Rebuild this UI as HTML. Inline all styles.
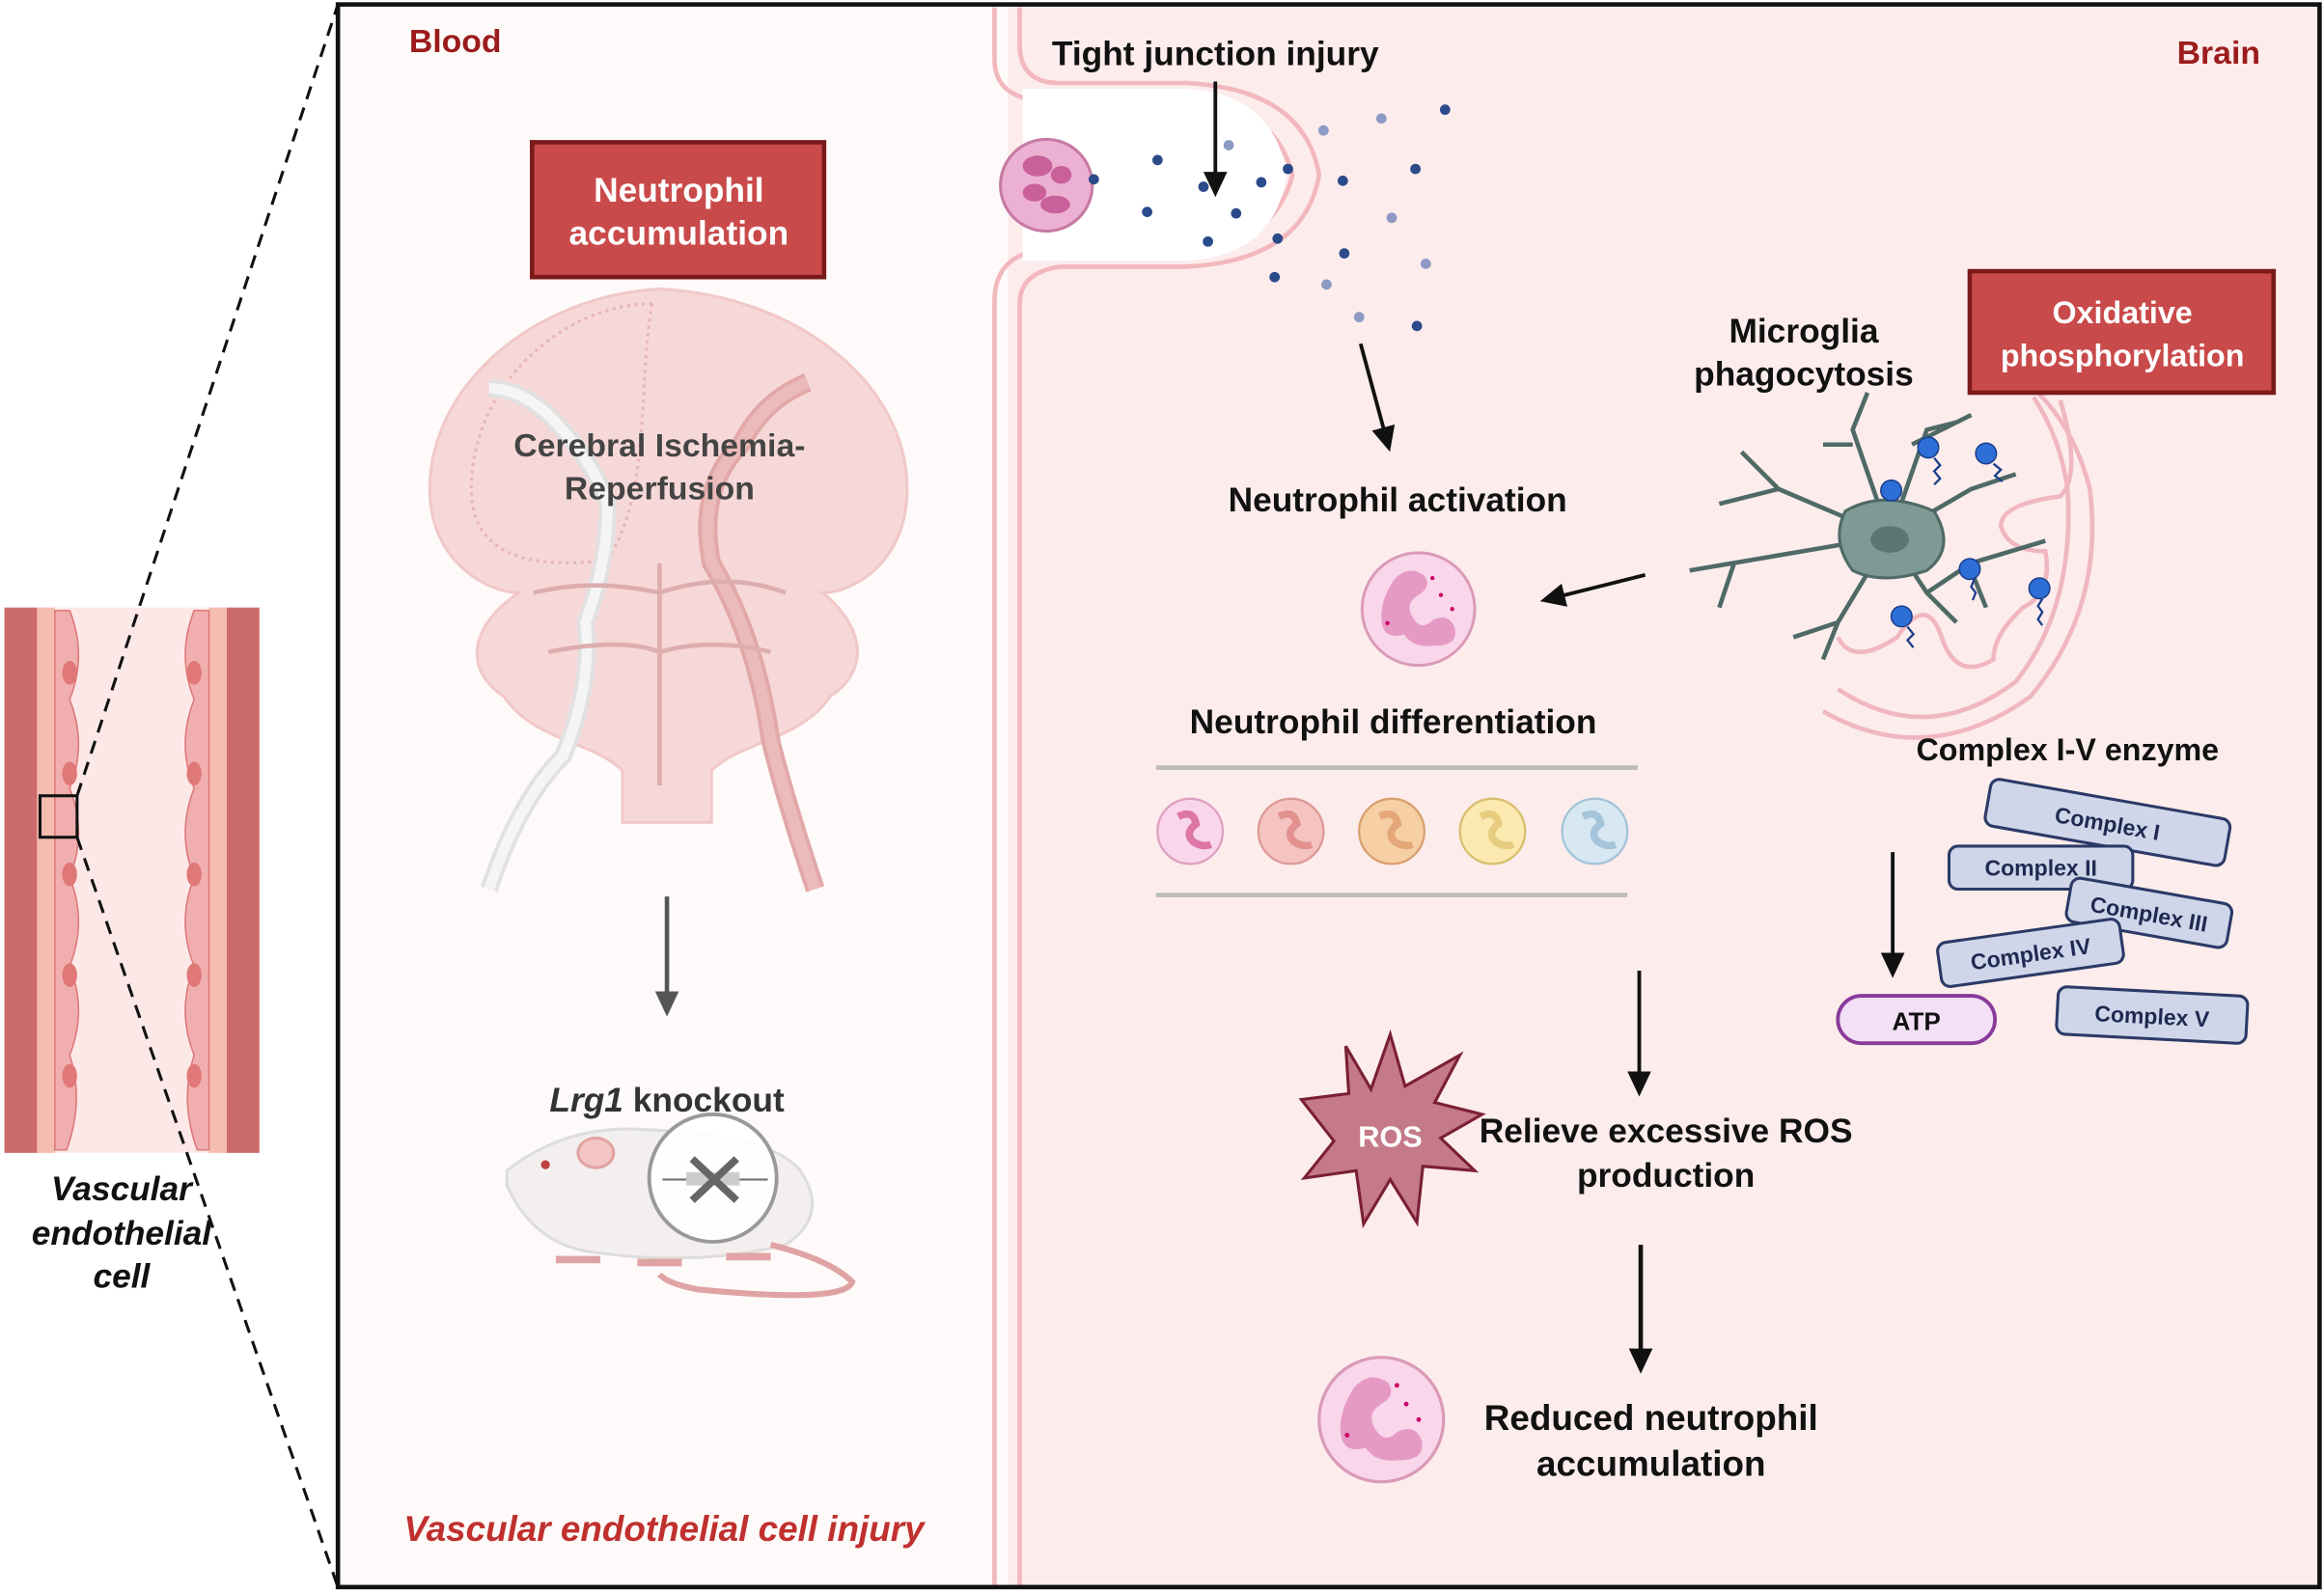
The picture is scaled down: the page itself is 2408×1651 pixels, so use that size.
<!DOCTYPE html>
<html><head><meta charset="utf-8"><style>
html,body{margin:0;padding:0;background:#fff;}
svg{display:block;}
text{font-family:"Liberation Sans",sans-serif;font-weight:bold;}
</style></head><body>
<svg width="2408" height="1651" viewBox="0 0 1568 1075" preserveAspectRatio="none" xmlns="http://www.w3.org/2000/svg">
<defs>
<marker id="ah" markerWidth="8" markerHeight="8" refX="6" refY="4" orient="auto" markerUnits="userSpaceOnUse" viewBox="0 0 8 8"><path d="M0,0 L8,4 L0,8z" fill="#111"/></marker>
<marker id="ahb" markerWidth="18" markerHeight="18" refX="14" refY="9" orient="auto" markerUnits="userSpaceOnUse"><path d="M0,1 L17,9 L0,17z" fill="#111"/></marker>
<marker id="ahg" markerWidth="18" markerHeight="18" refX="14" refY="9" orient="auto" markerUnits="userSpaceOnUse"><path d="M0,1 L17,9 L0,17z" fill="#555"/></marker>
<g id="neu"><circle r="40" fill="#f9d6ea" stroke="#d99ab8" stroke-width="2"/><path d="M-18,-20 q10,-12 22,-4 q6,8 -4,14 q-10,6 -4,16 q6,10 14,2 q12,-6 16,6 q2,12 -14,12 q-16,2 -22,-8 q-14,4 -16,-8 q-2,-14 8,-30z" fill="#e59ac4"/><circle cx="16" cy="-10" r="1.5" fill="#c06"/><circle cx="24" cy="0" r="1.5" fill="#c06"/><circle cx="10" cy="-22" r="1.5" fill="#c06"/><circle cx="-22" cy="10" r="1.5" fill="#c06"/></g>
</defs>
<rect width="1568" height="1075" fill="#fff"/>
<!-- vessel -->
<rect x="3" y="410" width="172" height="368" fill="#fde8e8"/>
<rect x="3" y="410" width="22" height="368" fill="#cc6b6b"/>
<rect x="153" y="410" width="22" height="368" fill="#cc6b6b"/>
<rect x="25" y="410" width="12" height="368" fill="#f5bcb0"/>
<rect x="141" y="410" width="12" height="368" fill="#f5bcb0"/>
<g fill="#f1aeae" stroke="#d77" stroke-width="1">
<path d="M37,412 h10 q12,30 0,60 q12,30 0,60 q12,30 0,60 q12,30 0,60 q12,30 0,60 q10,30 -2,64 h-8z"/>
<path d="M141,412 h-10 q-12,30 0,60 q-12,30 0,60 q-12,30 0,60 q-12,30 0,60 q-12,30 0,60 q-10,30 2,64 h8z"/>
</g>
<g fill="#e07878"><ellipse cx="47" cy="454" rx="5" ry="8"/><ellipse cx="47" cy="522" rx="5" ry="8"/><ellipse cx="47" cy="590" rx="5" ry="8"/><ellipse cx="47" cy="658" rx="5" ry="8"/><ellipse cx="47" cy="726" rx="5" ry="8"/>
<ellipse cx="131" cy="454" rx="5" ry="8"/><ellipse cx="131" cy="522" rx="5" ry="8"/><ellipse cx="131" cy="590" rx="5" ry="8"/><ellipse cx="131" cy="658" rx="5" ry="8"/><ellipse cx="131" cy="726" rx="5" ry="8"/></g>
<rect x="27" y="537" width="25" height="28" fill="none" stroke="#111" stroke-width="2"/>
<line x1="52" y1="537" x2="228" y2="3" stroke="#111" stroke-width="2" stroke-dasharray="9,6"/>
<line x1="52" y1="565" x2="228" y2="1071" stroke="#111" stroke-width="2" stroke-dasharray="9,6"/>
<g font-style="italic" font-size="23" fill="#111" text-anchor="middle"><text x="82" y="810">Vascular</text><text x="82" y="840">endothelial</text><text x="82" y="869">cell</text></g>
<!-- main panel -->
<rect x="228" y="3" width="1337" height="1068" fill="#fdfaf9"/>
<rect x="680" y="3" width="885" height="1068" fill="#fdecec"/>
<!-- membrane -->
<g fill="none" stroke="#f2b8bd" stroke-width="3">
<path d="M671,5 V40 q0,25 30,28 H800 q60,2 72,50 q-12,48 -72,50 H705 q-34,4 -34,35 V1071"/>
<path d="M688,5 V30 q0,25 25,26 H800 q80,4 90,62 q-10,58 -90,62 H715 q-27,4 -27,25 V1071"/>
</g>
<path d="M690,60 H800 q60,3 68,58 q-8,55 -68,58 H690z" fill="#fff"/>
<!-- neutrophil in junction -->
<circle cx="706" cy="125" r="31" fill="#ecb0d2" stroke="#c77aa4" stroke-width="2"/>
<g fill="#c9609a"><ellipse cx="700" cy="112" rx="10" ry="7"/><ellipse cx="716" cy="118" rx="7" ry="6"/><ellipse cx="698" cy="130" rx="8" ry="6"/><ellipse cx="712" cy="138" rx="10" ry="6"/></g>
<!-- dots -->
<g fill="#2b4a8a"><circle cx="738" cy="121" r="3.5"/><circle cx="781" cy="108" r="3.5"/><circle cx="774" cy="143" r="3.5"/><circle cx="812" cy="126" r="3.5"/><circle cx="834" cy="144" r="3.5"/><circle cx="815" cy="163" r="3.5"/><circle cx="851" cy="123" r="3.5"/><circle cx="869" cy="114" r="3.5"/><circle cx="862" cy="161" r="3.5"/><circle cx="860" cy="187" r="3.5"/><circle cx="906" cy="122" r="3.5"/><circle cx="907" cy="171" r="3.5"/><circle cx="975" cy="74" r="3.5"/><circle cx="955" cy="114" r="3.5"/><circle cx="956" cy="220" r="3.5"/><circle cx="1219" cy="14" r="0"/></g>
<g fill="#8c9ac4"><circle cx="829" cy="98" r="3.5"/><circle cx="893" cy="88" r="3.5"/><circle cx="932" cy="80" r="3.5"/><circle cx="895" cy="192" r="3.5"/><circle cx="939" cy="147" r="3.5"/><circle cx="962" cy="178" r="3.5"/><circle cx="917" cy="214" r="3.5"/></g>
<text x="820" y="44" font-size="23" fill="#111" text-anchor="middle">Tight junction injury</text>
<line x1="820" y1="55" x2="820" y2="130" stroke="#111" stroke-width="2.5" marker-end="url(#ahb)"/>
<line x1="918" y1="232" x2="937" y2="302" stroke="#111" stroke-width="2.5" marker-end="url(#ahb)"/>
<text x="276" y="35" font-size="22" fill="#9b1c1c">Blood</text>
<text x="1525" y="43" font-size="22" fill="#9b1c1c" text-anchor="end">Brain</text>
<!-- brain -->
<g opacity="0.85">
<path d="M445,195 C360,200 290,260 290,330 C290,380 330,400 350,400 C320,420 310,450 340,470 C360,500 400,500 420,520 L420,555 L480,555 L480,520 C500,500 540,500 560,470 C590,450 580,420 555,400 C575,400 612,380 612,330 C612,260 540,200 445,195z" fill="#f6d3d3" stroke="#efc0c0" stroke-width="2"/>
<path d="M440,205 C380,205 318,260 318,330 C318,372 352,385 410,378" fill="none" stroke="#e6a9a9" stroke-width="2" stroke-dasharray="2,3"/>
<path d="M440,205 C430,260 440,330 410,378" fill="none" stroke="#e6a9a9" stroke-width="2" stroke-dasharray="2,3"/>
<path d="M330,600 Q350,540 380,510 Q400,460 395,420 Q410,380 410,340 Q400,310 370,280 Q350,262 330,262" fill="none" stroke="#ddd" stroke-width="12"/>
<path d="M330,600 Q350,540 380,510 Q400,460 395,420 Q410,380 410,340 Q400,310 370,280 Q350,262 330,262" fill="none" stroke="#f5f5f5" stroke-width="7"/>
<path d="M550,600 Q530,540 520,500 Q510,430 480,380 Q470,330 500,300 Q515,270 545,258" fill="none" stroke="#de9a9a" stroke-width="13"/>
<path d="M550,600 Q530,540 520,500 Q510,430 480,380 Q470,330 500,300 Q515,270 545,258" fill="none" stroke="#e8b0b0" stroke-width="8"/>
<path d="M445,380 V530 M370,440 Q420,430 445,440 M445,440 Q480,430 520,440 M360,400 Q400,390 445,400 M445,400 Q490,385 530,400" fill="none" stroke="#d9a0a0" stroke-width="3"/>
</g>
<rect x="359" y="96" width="197" height="91" fill="#c94a4a" stroke="#7a1a1a" stroke-width="3"/>
<text x="458" y="136" font-size="23" fill="#fff" text-anchor="middle">Neutrophil</text>
<text x="458" y="165" font-size="23" fill="#fff" text-anchor="middle">accumulation</text>
<text x="445" y="308" font-size="22" fill="#444" text-anchor="middle">Cerebral Ischemia-</text>
<text x="445" y="337" font-size="22" fill="#444" text-anchor="middle">Reperfusion</text>
<line x1="450" y1="605" x2="450" y2="683" stroke="#555" stroke-width="3" marker-end="url(#ahg)"/>
<!-- mouse -->
<path d="M342,790 Q380,760 430,762 Q520,765 540,790 Q560,820 530,840 Q470,855 400,845 Q360,840 342,800z" fill="#f3efee" stroke="#ddd" stroke-width="2"/>
<path d="M520,840 Q560,850 575,865 Q570,880 470,870 Q450,866 445,860" fill="none" stroke="#e0a3a3" stroke-width="4"/>
<ellipse cx="402" cy="778" rx="12" ry="10" fill="#f3c5c5" stroke="#e2a3a3" stroke-width="2"/>
<circle cx="368" cy="786" r="3" fill="#c04040"/>
<path d="M375,850 h30 M430,852 h30 M490,848 h30" stroke="#e0a3a3" stroke-width="5"/>
<circle cx="481" cy="795" r="43" fill="#fff" fill-opacity="0.9" stroke="#999" stroke-width="2.5"/>
<line x1="447" y1="796" x2="518" y2="796" stroke="#777" stroke-width="1.5"/><rect x="463" y="791" width="36" height="9" fill="#ccc"/>
<path d="M467,782 L497,810 M497,782 L467,810" stroke="#666" stroke-width="5"/>
<text x="450" y="750" font-size="23" fill="#333" text-anchor="middle"><tspan font-style="italic">Lrg1</tspan> knockout</text>
<text x="448" y="1040" font-size="24" font-style="italic" fill="#c0302e" text-anchor="middle">Vascular endothelial cell injury</text>
<!-- center column -->
<text x="943" y="345" font-size="23" fill="#111" text-anchor="middle">Neutrophil activation</text>
<use href="#neu" transform="translate(957,411) scale(0.95)"/>
<line x1="1110" y1="388" x2="1042" y2="405" stroke="#111" stroke-width="2.5" marker-end="url(#ahb)"/>
<text x="940" y="495" font-size="23" fill="#111" text-anchor="middle">Neutrophil differentiation</text>
<line x1="780" y1="518" x2="1105" y2="518" stroke="#bbb" stroke-width="3"/>
<line x1="780" y1="604" x2="1098" y2="604" stroke="#bbb" stroke-width="3"/>
<g><circle cx="803" cy="561" r="22" fill="#f9d6ea" stroke="#dea0c0" stroke-width="1.5"/><circle cx="871" cy="561" r="22" fill="#f5c4c0" stroke="#dc9a96" stroke-width="1.5"/><circle cx="939" cy="561" r="22" fill="#f7cfa4" stroke="#d9a070" stroke-width="1.5"/><circle cx="1007" cy="561" r="22" fill="#fbe9b0" stroke="#d8bf70" stroke-width="1.5"/><circle cx="1076" cy="561" r="22" fill="#d8e8f2" stroke="#a4c4d8" stroke-width="1.5"/>
<g opacity="0.45"><path d="M795,551 q10,-5 12,5 q-8,6 -2,12 q6,4 12,2" fill="none" stroke="#b05" stroke-width="5"/><path d="M863,551 q10,-5 12,5 q-8,6 -2,12 q6,4 12,2" fill="none" stroke="#c55" stroke-width="5"/><path d="M931,551 q10,-5 12,5 q-8,6 -2,12 q6,4 12,2" fill="none" stroke="#c74" stroke-width="5"/><path d="M999,551 q10,-5 12,5 q-8,6 -2,12 q6,4 12,2" fill="none" stroke="#ca4" stroke-width="5"/><path d="M1068,551 q10,-5 12,5 q-8,6 -2,12 q6,4 12,2" fill="none" stroke="#69b" stroke-width="5"/></g></g>
<line x1="1106" y1="655" x2="1106" y2="737" stroke="#111" stroke-width="2.5" marker-end="url(#ahb)"/>
<polygon points="938,698 948,733 985,712 968,744 1000,752 972,768 995,790 960,787 956,825 938,796 920,826 915,790 880,795 900,770 878,742 910,738 908,706 925,735" fill="#c47a88" stroke="#7a1f35" stroke-width="2"/>
<text x="938" y="774" font-size="20" fill="#fff" text-anchor="middle">ROS</text>
<text x="1124" y="771" font-size="23" fill="#111" text-anchor="middle">Relieve excessive ROS</text>
<text x="1124" y="801" font-size="23" fill="#111" text-anchor="middle">production</text>
<line x1="1107" y1="840" x2="1107" y2="924" stroke="#111" stroke-width="3" marker-end="url(#ahb)"/>
<use href="#neu" transform="translate(932,958) scale(1.05)"/>
<text x="1114" y="965" font-size="24" fill="#111" text-anchor="middle">Reduced neutrophil</text>
<text x="1114" y="996" font-size="24" fill="#111" text-anchor="middle">accumulation</text>
<!-- mitochondrion -->
<g fill="none" stroke="#f0b7c0" stroke-width="3">
<path d="M1230,480 Q1300,520 1370,470 Q1420,410 1410,330 Q1400,290 1375,265"/>
<path d="M1240,465 Q1300,505 1360,460 Q1400,410 1395,330 Q1390,295 1372,268 M1390,270 Q1405,320 1390,335 Q1350,340 1350,355 Q1355,372 1380,372 Q1385,400 1365,410 Q1345,428 1345,445 Q1320,460 1310,430 Q1300,400 1280,430 Q1250,450 1240,430"/>
</g>
<!-- microglia -->
<g stroke="#4f6a66" stroke-width="3" fill="none">
<path d="M1275,362 L1200,330 L1160,340 M1200,330 L1175,305 M1275,362 L1140,385 M1170,380 L1160,410 M1275,362 L1250,290 L1260,265 M1250,300 L1230,300 M1275,362 L1300,290 L1320,285 M1290,300 L1330,280 M1275,362 L1330,330 L1360,320 M1275,362 L1300,400 L1320,420 M1300,400 L1330,380 L1380,365 M1275,362 L1240,420 L1230,445 M1240,420 L1210,430 M1330,385 L1340,410"/>
</g>
<path d="M1245,345 Q1270,330 1305,345 Q1320,370 1300,385 Q1270,395 1250,385 Q1235,365 1245,345z" fill="#7e9a95" stroke="#4f6a66" stroke-width="2"/>
<ellipse cx="1275" cy="364" rx="13" ry="9" fill="#5c7672"/>
<g fill="#2d6fd6" stroke="#1b3f8a" stroke-width="1"><circle cx="1276" cy="331" r="7"/><circle cx="1301" cy="302" r="7"/><circle cx="1340" cy="306" r="7"/><circle cx="1329" cy="384" r="7"/><circle cx="1376" cy="397" r="7"/><circle cx="1283" cy="416" r="7"/></g>
<g fill="none" stroke="#1b3f8a" stroke-width="1.5"><path d="M1305,309 l4,5 -4,4 4,5 -4,4"/><path d="M1345,313 l5,4 -4,4 5,4"/><path d="M1332,391 l-2,5 3,4 -2,5"/><path d="M1378,404 l-3,5 3,4 -3,5 3,4"/><path d="M1287,423 l4,5 -4,4 4,5"/></g>
<text x="1217" y="231" font-size="23" fill="#111" text-anchor="middle">Microglia</text>
<text x="1217" y="260" font-size="23" fill="#111" text-anchor="middle">phagocytosis</text>
<rect x="1329" y="183" width="205" height="82" fill="#c94a4a" stroke="#7a1a1a" stroke-width="3"/>
<text x="1432" y="218" font-size="21" fill="#fff" text-anchor="middle">Oxidative</text>
<text x="1432" y="247" font-size="21" fill="#fff" text-anchor="middle">phosphorylation</text>
<text x="1395" y="513" font-size="21" fill="#111" text-anchor="middle">Complex I-V enzyme</text>
<g font-size="15" fill="#1e2a50" text-anchor="middle">
<g transform="translate(1422,555) rotate(10)"><rect x="-82" y="-16" width="164" height="32" rx="6" fill="#d0d6ea" stroke="#2b3a66" stroke-width="2"/><text y="6">Complex I</text></g>
<g transform="translate(1377,585)"><rect x="-62" y="-14" width="124" height="29" rx="6" fill="#d0d6ea" stroke="#2b3a66" stroke-width="2"/><text y="6">Complex II</text></g>
<g transform="translate(1450,616) rotate(10)"><rect x="-55" y="-15" width="110" height="30" rx="6" fill="#d0d6ea" stroke="#2b3a66" stroke-width="2"/><text y="6">Complex III</text></g>
<g transform="translate(1370,643) rotate(-8)"><rect x="-62" y="-15" width="124" height="30" rx="6" fill="#d0d6ea" stroke="#2b3a66" stroke-width="2"/><text y="6">Complex IV</text></g>
<g transform="translate(1452,685) rotate(3)"><rect x="-64" y="-16" width="128" height="32" rx="6" fill="#d0d6ea" stroke="#2b3a66" stroke-width="2"/><text y="6">Complex V</text></g>
</g>
<rect x="1240" y="672" width="106" height="32" rx="16" fill="#f3e0f7" stroke="#8a3a9a" stroke-width="2.5"/>
<text x="1293" y="695" font-size="17" fill="#111" text-anchor="middle">ATP</text>
<line x1="1277" y1="575" x2="1277" y2="657" stroke="#111" stroke-width="2.5" marker-end="url(#ahb)"/>
<rect x="228" y="3" width="1337" height="1068" fill="none" stroke="#111" stroke-width="3"/>
</svg>
</body></html>
